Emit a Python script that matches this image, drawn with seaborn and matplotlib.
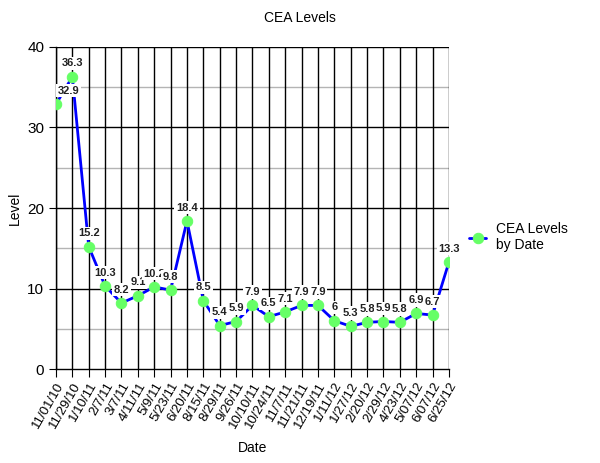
import matplotlib
matplotlib.use("Agg")
import matplotlib.pyplot as plt
import seaborn as sns
import pandas as pd
import numpy as np

dates = ["11/01/10", "11/29/10", "1/10/11", "2/7/11", "3/7/11", "4/11/11", "5/9/11",
         "5/23/11", "6/20/11", "8/15/11", "8/29/11", "9/26/11", "10/10/11", "10/24/11",
         "11/7/11", "11/21/11", "12/19/11", "1/11/12", "1/27/12", "2/20/12", "2/29/12",
         "4/23/12", "5/07/12", "6/07/12", "6/25/12"]
levels = [32.9, 36.3, 15.2, 10.3, 8.2, 9.1, 10.2, 9.8, 18.4, 8.5, 5.4, 5.9, 7.9, 6.5,
          7.1, 7.9, 7.9, 6, 5.3, 5.8, 5.9, 5.8, 6.9, 6.7, 13.3]
level_labels = ["32.9", "36.3", "15.2", "10.3", "8.2", "9.1", "10.2", "9.8", "18.4", "8.5",
                "5.4", "5.9", "7.9", "6.5", "7.1", "7.9", "7.9", "6", "5.3", "5.8", "5.9",
                "5.8", "6.9", "6.7", "13.3"]
y_ticks = [0, 10, 20, 30, 40]

sns.set_style("white")
plt.rcParams['font.family'] = ['Liberation Sans', 'DejaVu Sans']
plt.rcParams['text.color'] = 'black'
plt.rcParams['axes.labelcolor'] = 'black'
plt.rcParams['xtick.color'] = 'black'
plt.rcParams['ytick.color'] = 'black'

df = pd.DataFrame({"Date": dates, "Level": levels})

fig = plt.figure(figsize=(6.0, 4.63), dpi=100)
ax = fig.add_axes([0.0933, 0.203, 0.655, 0.6955])

# grid
for y in [5, 15, 25, 35]:
    ax.axhline(y, color="#b4b4b4", lw=1, zorder=0)
for y in y_ticks[1:]:
    ax.axhline(y, color="black", lw=1, zorder=0)
for i in range(len(dates)):
    ax.axvline(i, color="black", lw=1, zorder=0)

sns.lineplot(data=df, x="Date", y="Level", sort=False, ax=ax, color="#0000ff", lw=2,
             marker="o", markersize=7.5, markerfacecolor="#66ff66", markeredgecolor="#66ff66",
             label="CEA Levels\nby Date", zorder=3)

for i, (v, t) in enumerate(zip(levels, level_labels)):
    dx = 9 if i == 0 else 0
    ax.annotate(t, (i, v), xytext=(dx, 6), textcoords="offset points", ha="center",
                va="bottom", fontsize=8, fontweight="bold", color="#222222",
                bbox=dict(boxstyle="square,pad=0.15", fc="white", ec="none"), zorder=4)

ax.set_xlim(0, len(dates) - 1)
ax.set_ylim(0, 40)
ax.set_yticks(y_ticks)
ax.set_xticks(range(len(dates)))
ax.set_xticklabels(dates, rotation=60, ha="right", rotation_mode="anchor", fontsize=9.5)
ax.tick_params(axis="y", labelsize=11, length=5, direction="out", left=True, color="black")
ax.tick_params(axis="x", length=6, direction="out", bottom=True, color="black", pad=2)
for s in ["top", "right"]:
    ax.spines[s].set_visible(False)
for s in ["left", "bottom"]:
    ax.spines[s].set_color("black")
    ax.spines[s].set_linewidth(1)

fig.text(0.5, 0.961, "CEA Levels", ha="center", va="center", fontsize=10)
ax.set_xlabel("Date", fontsize=10, labelpad=8)
ax.set_ylabel("Level", fontsize=10)

ax.legend(loc="center left", bbox_to_anchor=(1.02, 0.41), frameon=False, fontsize=10,
          handlelength=1.2, handletextpad=0.7)

fig.savefig("out.png", dpi=100)
